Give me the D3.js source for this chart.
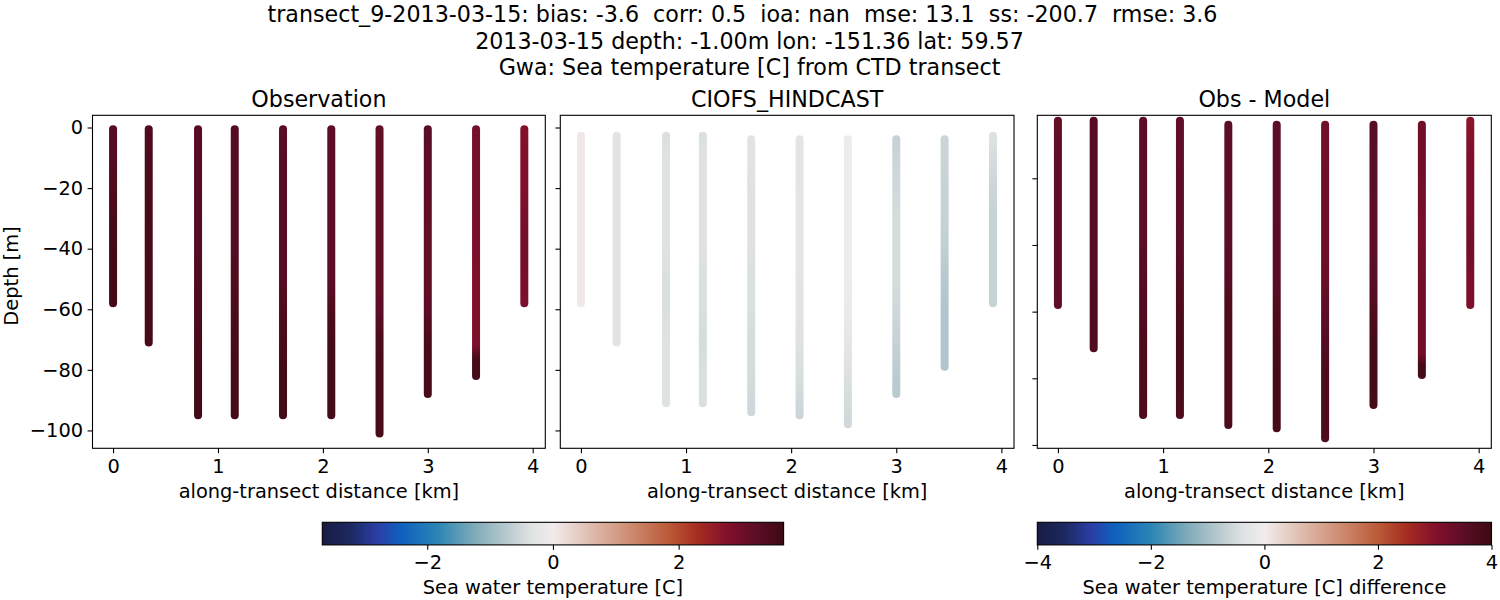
<!DOCTYPE html>
<html>
<head>
<meta charset="utf-8">
<script src="https://cdn.jsdelivr.net/npm/d3@7"></script>
<style>
  html, body { margin: 0; padding: 0; background: #fff; }
  svg { display: block; }
  text { font-family: "DejaVu Sans"; fill: #000; white-space: pre; }
  .tick text { font-family: "DejaVu Sans"; font-size: 19.4px; }
</style>
</head>
<body>
<svg id="chart" width="1500" height="600"></svg>
<script>
// Figure titles
var titleLines = [
  "transect_9-2013-03-15: bias: -3.6  corr: 0.5  ioa: nan  mse: 13.1  ss: -200.7  rmse: 3.6",
  "2013-03-15 depth: -1.00m lon: -151.36 lat: 59.57",
  "Gwa: Sea temperature [C] from CTD transect"
];
var titleCentre = [742.5, 749.5, 749.5];

// Along-transect distance of each CTD cast [km]
var castDistance = [0, 0.34, 0.81, 1.16, 1.62, 2.08, 2.54, 3.0, 3.46, 3.92];

// Depths of the readings, one list per cast
var obsDepths = [
  [-0.6, -10, -20, -30, -40, -50, -58],
  [-0.6, -10, -20, -30, -40, -50, -60, -71],
  [-0.6, -10, -20, -30, -40, -50, -60, -70, -80, -90, -95],
  [-0.6, -10, -20, -30, -40, -50, -60, -70, -80, -90, -95],
  [-0.6, -10, -20, -30, -40, -50, -60, -70, -80, -90, -95],
  [-0.6, -10, -20, -30, -40, -50, -60, -70, -80, -90, -95],
  [-0.6, -10, -20, -30, -40, -50, -60, -70, -80, -90, -101],
  [-0.6, -10, -20, -30, -40, -50, -60, -70, -80, -88],
  [-0.6, -10, -20, -30, -40, -50, -60, -72, -76, -82],
  [-0.6, -10, -20, -30, -40, -50, -58]
];

var modelDepths = [
  [-2.75, -10, -20, -30, -40, -50, -58],
  [-2.75, -10, -20, -30, -40, -50, -60, -71],
  [-2.75, -10, -20, -30, -40, -50, -60, -70, -80, -90, -91],
  [-2.75, -10, -20, -30, -40, -50, -60, -70, -80, -90, -91],
  [-3.9, -10, -20, -30, -40, -50, -60, -70, -80, -90, -94],
  [-3.9, -10, -20, -30, -40, -50, -60, -70, -80, -90, -95],
  [-3.9, -10, -20, -30, -40, -50, -60, -70, -80, -90, -98],
  [-3.9, -10, -20, -30, -40, -50, -60, -70, -80, -88],
  [-3.9, -10, -20, -30, -40, -50, -60, -70, -73, -76, -79],
  [-2.75, -10, -20, -30, -40, -50, -58]
];

// Observed temperature at those depths
var obsTemp = [
  [3.3, 3.35, 3.4, 3.5, 3.55, 3.55, 3.55],
  [3.4, 3.45, 3.48, 3.5, 3.5, 3.52, 3.52, 3.52],
  [3.3, 3.32, 3.32, 3.35, 3.35, 3.38, 3.42, 3.5, 3.55, 3.55, 3.55],
  [3.32, 3.32, 3.32, 3.35, 3.35, 3.38, 3.45, 3.5, 3.55, 3.55, 3.55],
  [3.25, 3.3, 3.3, 3.3, 3.3, 3.3, 3.42, 3.5, 3.55, 3.55, 3.55],
  [3.2, 3.2, 3.2, 3.2, 3.2, 3.22, 3.42, 3.55, 3.55, 3.55, 3.55],
  [3.15, 3.15, 3.15, 3.15, 3.15, 3.15, 3.22, 3.45, 3.5, 3.5, 3.5],
  [3.25, 3.22, 3.2, 3.15, 3.15, 3.15, 3.22, 3.45, 3.5, 3.5],
  [2.9, 2.9, 2.9, 2.9, 2.85, 2.8, 2.8, 2.85, 3.5, 3.55],
  [2.75, 2.8, 2.8, 2.9, 2.95, 2.9, 2.85]
];

// Model temperature at its own depths
var modelTemp = [
  [0.05, 0.05, 0.05, 0.05, 0.05, 0.05, 0.05],
  [-0.3, -0.3, -0.3, -0.3, -0.3, -0.3, -0.3, -0.3],
  [-0.4, -0.35, -0.35, -0.35, -0.35, -0.4, -0.4, -0.35, -0.35, -0.35, -0.35],
  [-0.4, -0.35, -0.35, -0.35, -0.35, -0.4, -0.4, -0.45, -0.4, -0.4, -0.4],
  [-0.3, -0.3, -0.35, -0.35, -0.35, -0.4, -0.4, -0.45, -0.45, -0.5, -0.5],
  [-0.25, -0.25, -0.25, -0.2, -0.2, -0.25, -0.3, -0.35, -0.4, -0.5, -0.55],
  [-0.05, -0.05, -0.05, -0.05, -0.05, -0.05, -0.1, -0.2, -0.35, -0.45, -0.5],
  [-0.6, -0.55, -0.5, -0.45, -0.45, -0.45, -0.5, -0.6, -0.7, -0.72],
  [-0.55, -0.55, -0.6, -0.6, -0.65, -0.75, -0.8, -0.8, -0.8, -0.8, -0.8],
  [-0.35, -0.45, -0.55, -0.6, -0.6, -0.6, -0.6]
];

// Obs - Model colours, drawn at the model depths
var diffTemp = [
  [3.4, 3.45, 3.5, 3.5, 3.5, 3.5, 3.45],
  [3.6, 3.65, 3.65, 3.65, 3.65, 3.65, 3.68, 3.68],
  [3.5, 3.5, 3.55, 3.55, 3.55, 3.6, 3.65, 3.75, 3.75, 3.7, 3.7],
  [3.45, 3.45, 3.5, 3.5, 3.55, 3.65, 3.75, 3.85, 3.8, 3.75, 3.75],
  [3.55, 3.5, 3.5, 3.55, 3.55, 3.6, 3.75, 3.75, 3.75, 3.75, 3.75],
  [3.5, 3.5, 3.5, 3.5, 3.55, 3.55, 3.7, 3.8, 3.85, 3.85, 3.85],
  [3.25, 3.25, 3.3, 3.3, 3.3, 3.35, 3.5, 3.65, 3.75, 3.75, 3.7],
  [3.6, 3.55, 3.55, 3.5, 3.5, 3.55, 3.7, 3.85, 3.85, 3.8],
  [3.25, 3.25, 3.25, 3.2, 3.2, 3.25, 3.25, 3.25, 3.3, 3.85, 3.85],
  [2.9, 3.05, 3.1, 3.1, 3.25, 3.1, 3.1]
];

// Tick labels
var distanceTicks = [0, 1, 2, 3, 4];
var depthTicks = [0, -20, -40, -60, -80, -100];
var sideTicks = [-20, -40, -60, -80, -100];
var tempTicks = [-2, 0, 2];
var diffTicks = [-4, -2, 0, 2, 4];

// cmocean "balance" as seen on the colorbars
var balancePos = [0, 0.06, 0.12, 0.17, 0.25, 0.33, 0.41, 0.45, 0.5, 0.58, 0.67, 0.75, 0.81, 0.875, 0.94, 1];
var balanceCol = ["#181c43", "#1d2860", "#2b3ea6", "#0e60bd", "#2a85b5", "#7fabb8", "#c0ced2", "#dde1e2", "#f1ecec",
                  "#e0bdb0", "#cd8a6f", "#bb5a38", "#a72f20", "#84102c", "#5c0d26", "#3c0912"];
var balance = d3.scaleLinear().domain(balancePos).range(balanceCol);

var svg = d3.select("#chart");
var defs = svg.append("defs");

titleLines.forEach((line, i) => {
  svg.append("text")
    .attr("x", titleCentre[i]).attr("y", 22 + i * 26.6)
    .attr("text-anchor", "middle").style("font-size", "22.2px")
    .text(line);
});

// One panel of casts. Each cast is a round-capped bar coloured by its readings
function drawPanel(p) {
  var x = d3.scaleLinear().domain([-0.196, 4.12]).range([p.left, p.left + p.width]);
  var y = d3.scaleLinear().domain(p.yDomain).range([115.3, 448.3]);
  var color = d3.scaleLinear().domain([-p.vmax, p.vmax]).range([0, 1]);
  var g = svg.append("g");

  castDistance.forEach((dist, i) => {
    var depths = p.depths[i];
    var id = p.id + "-cast" + i;
    var top = y(depths[0]);
    var bottom = y(depths[depths.length - 1]);

    var grad = defs.append("linearGradient").attr("id", id)
      .attr("gradientUnits", "userSpaceOnUse")
      .attr("x1", 0).attr("x2", 0).attr("y1", top).attr("y2", bottom);
    depths.forEach((d, j) => {
      grad.append("stop")
        .attr("offset", (y(d) - top) / (bottom - top))
        .attr("stop-color", balance(color(p.values[i][j])));
    });

    // a stroke with a gradient needs some width in its box, so use a rounded rect
    g.append("rect")
      .attr("x", x(dist) - 4).attr("width", 8)
      .attr("y", top - 4).attr("height", bottom - top + 8)
      .attr("rx", 4).attr("ry", 4)
      .attr("fill", "url(#" + id + ")");
  });

  var bottomAxis = d3.axisBottom(x).tickValues(distanceTicks).tickSize(4.9).tickPadding(6)
    .tickFormat(d3.format("d"));
  var leftAxis = d3.axisLeft(y).tickValues(p.yTicks).tickSize(4.9).tickPadding(4.5);
  if (!p.yLabels) leftAxis.tickFormat("");

  svg.append("g").attr("transform", "translate(0,448.3)").call(bottomAxis);
  svg.append("g").attr("transform", "translate(" + p.left + ",0)").call(leftAxis);
  svg.selectAll(".domain").remove();
  svg.selectAll(".tick line").attr("stroke-width", 1.1);

  svg.append("rect")
    .attr("x", p.left).attr("y", 115.3).attr("width", p.width).attr("height", 333)
    .attr("fill", "none").attr("stroke", "#000").attr("stroke-width", 1.1);

  svg.append("text")
    .attr("x", p.left + p.width / 2).attr("y", 107)
    .attr("text-anchor", "middle").style("font-size", "22.2px")
    .text(p.title);
  svg.append("text")
    .attr("x", p.left + p.width / 2).attr("y", 498)
    .attr("text-anchor", "middle").style("font-size", "19.4px")
    .text("along-transect distance [km]");
}

drawPanel({
  id: "obs", title: "Observation", left: 92.5, width: 452.8,
  depths: obsDepths, values: obsTemp, vmax: 3.67,
  yDomain: [4.03, -105.9], yTicks: depthTicks, yLabels: true
});
drawPanel({
  id: "model", title: "CIOFS_HINDCAST", left: 560.3, width: 453.7,
  depths: modelDepths, values: modelTemp, vmax: 3.67,
  yDomain: [4.03, -105.9], yTicks: depthTicks, yLabels: false
});
drawPanel({
  id: "diff", title: "Obs - Model", left: 1037.3, width: 454,
  depths: modelDepths, values: diffTemp, vmax: 4,
  yDomain: [-1.1, -101], yTicks: sideTicks, yLabels: false
});

svg.append("text")
  .attr("transform", "translate(18,276) rotate(-90)")
  .attr("text-anchor", "middle").style("font-size", "19.4px")
  .text("Depth [m]");

// Horizontal colorbar
function drawColorbar(c) {
  var x = d3.scaleLinear().domain([-c.vmax, c.vmax]).range([c.left, c.right]);
  var grad = defs.append("linearGradient").attr("id", c.id);
  balancePos.forEach((pos, i) => {
    grad.append("stop").attr("offset", pos).attr("stop-color", balanceCol[i]);
  });
  svg.append("rect")
    .attr("x", c.left).attr("y", 522.3).attr("width", c.right - c.left).attr("height", 22.6)
    .attr("fill", "url(#" + c.id + ")").attr("stroke", "#000").attr("stroke-width", 1.1);
  svg.append("g").attr("transform", "translate(0,544.9)")
    .call(d3.axisBottom(x).tickValues(c.ticks).tickSize(4.9).tickPadding(5.5))
    .call(a => a.select(".domain").remove())
    .call(a => a.selectAll(".tick line").attr("stroke-width", 1.1));
  svg.append("text")
    .attr("x", (c.left + c.right) / 2).attr("y", 594)
    .attr("text-anchor", "middle").style("font-size", "19.4px")
    .text(c.label);
}

drawColorbar({ id: "cb1", left: 322.3, right: 783.6, vmax: 3.67, ticks: tempTicks, label: "Sea water temperature [C]" });
drawColorbar({ id: "cb2", left: 1037.3, right: 1491.5, vmax: 4, ticks: diffTicks, label: "Sea water temperature [C] difference" });
</script>
</body>
</html>
